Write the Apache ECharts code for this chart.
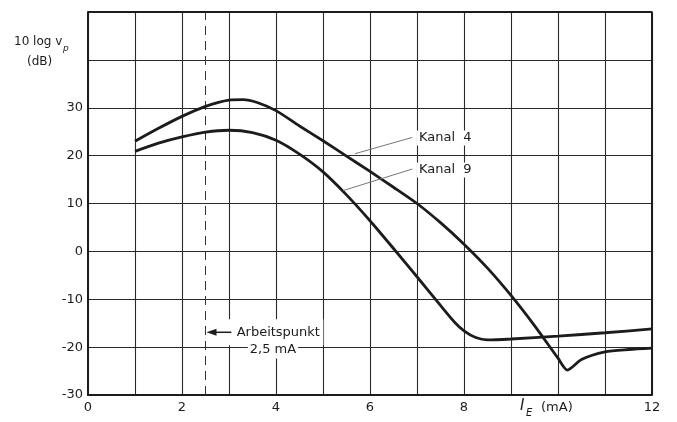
<!DOCTYPE html>
<html>
<head>
<meta charset="utf-8">
<script src="https://cdn.jsdelivr.net/npm/echarts@6/dist/echarts.min.js"></script>
<style>
  html, body { margin: 0; padding: 0; background: #fff; }
  #root { width: 677px; height: 422px; }
</style>
</head>
<body>
<div id="root"></div>
<script>
// Kanal 4 (upper curve at low current)
var k4Current = [1, 1.5, 2, 2.5, 3, 3.3, 3.6, 4, 4.5, 5, 5.5, 6, 6.5, 7, 7.5, 8, 8.5, 9, 9.5, 10, 10.2, 10.5, 11, 11.5, 12];
var k4Gain    = [23, 25.7, 28.2, 30.3, 31.6, 31.7, 31.1, 29.4, 26.2, 23.1, 19.9, 16.7, 13.4, 10, 6, 1.5, -3.5, -9.2, -15.5, -22.3, -24.8, -22.6, -21, -20.5, -20.2];

// Kanal 9
var k9Current = [1, 1.5, 2, 2.5, 3, 3.5, 4, 4.5, 5, 5.5, 6, 6.5, 7, 7.5, 7.8, 8, 8.25, 8.5, 9, 10, 11, 12];
var k9Gain    = [20.9, 22.6, 23.9, 24.9, 25.3, 24.8, 23.2, 20.3, 16.6, 11.8, 6.4, 0.6, -5.3, -11.3, -14.8, -16.6, -18, -18.5, -18.3, -17.7, -17, -16.2];

// 10 is left out: the axis name sits there
var xTicks = [0, 2, 4, 6, 8, 12];
var yTicks = [-30, -20, -10, 0, 10, 20, 30];
var workPoint = 2.5;

function zip(xs, ys) {
	var out = [];
	for (var i = 0; i < xs.length; i++) out.push([xs[i], ys[i]]);
	return out;
}

var ink = '#1c1c1c';
var font = 'DejaVu Sans';

var chart = echarts.init(document.getElementById('root'));

var option = {
	animation: false,
	backgroundColor: '#fff',
	grid: { left: 88, top: 12, right: 25, bottom: 27, containLabel: false },
	xAxis: {
		type: 'value', min: 0, max: 12, interval: 1,
		axisLine: { show: true, onZero: false, lineStyle: { color: ink, width: 2 } },
		axisTick: { show: false },
		splitLine: { show: true, lineStyle: { color: '#2a2a2a', width: 1.1 } },
		axisLabel: {
			color: ink, fontFamily: font, fontSize: 13, margin: 6,
			formatter: function (v) { return xTicks.indexOf(v) >= 0 ? String(v) : ''; }
		}
	},
	yAxis: {
		type: 'value', min: -30, max: 50, interval: 10,
		axisLine: { show: true, lineStyle: { color: ink, width: 2 } },
		axisTick: { show: false },
		splitLine: { show: true, lineStyle: { color: '#2a2a2a', width: 1.1 } },
		axisLabel: {
			color: ink, fontFamily: font, fontSize: 13, margin: 5,
			formatter: function (v) { return yTicks.indexOf(v) >= 0 ? String(v) : ''; }
		}
	},
	series: [
		{
			name: 'Kanal 4', type: 'line', data: zip(k4Current, k4Gain),
			smooth: 0.25, symbol: 'none',
			lineStyle: { color: ink, width: 2.8 },
			z: 5,
			markLine: {
				silent: true, symbol: 'none',
				label: { show: false },
				lineStyle: { color: '#333', width: 1, type: [9, 6] },
				data: [{ xAxis: workPoint }]
			}
		},
		{
			name: 'Kanal 9', type: 'line', data: zip(k9Current, k9Gain),
			smooth: 0.25, symbol: 'none',
			lineStyle: { color: ink, width: 2.8 },
			z: 5
		},
		{
			// right and top frame
			type: 'line', data: [[12, -30], [12, 50], [0, 50]],
			symbol: 'none', silent: true,
			lineStyle: { color: ink, width: 2 }, z: 4
		}
	]
};

chart.setOption(option);

// annotations placed from data coordinates
function px(x, y) { return chart.convertToPixel({ gridIndex: 0 }, [x, y]); }

var l4a = px(5.68, 20.4), l4b = px(6.9, 23.8), t4 = px(7.0, 23.7);
var l9a = px(5.43, 12.7), l9b = px(6.9, 17.2), t9 = px(7.0, 17.0);
var ar = px(workPoint, -16.9), arEnd = px(3.05, -16.9);
var tA = px(3.12, -16.9), tB = px(3.4, -20.6);

var textStyle = { fill: ink, fontFamily: font, fontSize: 13 };

chart.setOption({
	graphic: [
		{ type: 'text', left: 14, top: 36, style: { text: '10 log v', fill: ink, fontFamily: font, fontSize: 12 } },
		{ type: 'text', left: 63, top: 44, style: { text: 'p', fill: ink, fontFamily: font, fontSize: 9, fontStyle: 'italic' } },
		{ type: 'text', left: 27, top: 56, style: { text: '(dB)', fill: ink, fontFamily: font, fontSize: 12 } },

		{ type: 'text', left: 520, top: 399, style: { text: 'I', fill: ink, fontFamily: font, fontSize: 15, fontStyle: 'italic' } },
		{ type: 'text', left: 526, top: 408, style: { text: 'E', fill: ink, fontFamily: font, fontSize: 10, fontStyle: 'italic' } },
		{ type: 'text', left: 541, top: 401, style: { text: '(mA)', fill: ink, fontFamily: font, fontSize: 13 } },

		{ type: 'line', shape: { x1: l4a[0], y1: l4a[1], x2: l4b[0], y2: l4b[1] }, style: { stroke: '#777', lineWidth: 1 }, z: 20 },
		{ type: 'line', shape: { x1: l9a[0], y1: l9a[1], x2: l9b[0], y2: l9b[1] }, style: { stroke: '#777', lineWidth: 1 }, z: 20 },
		{ type: 'text', x: t4[0], y: t4[1], style: Object.assign({ text: 'Kanal  4', verticalAlign: 'middle', backgroundColor: '#fff', padding: [1, 2, 1, 2] }, textStyle), z: 20 },
		{ type: 'text', x: t9[0], y: t9[1], style: Object.assign({ text: 'Kanal  9', verticalAlign: 'middle', backgroundColor: '#fff', padding: [1, 2, 1, 2] }, textStyle), z: 20 },

		{ type: 'rect', shape: { x: arEnd[0] - 6, y: ar[1] - 13, width: 98, height: 26 }, style: { fill: '#fff' }, z: 18 },
		{ type: 'text', x: tA[0], y: tA[1], style: Object.assign({ text: 'Arbeitspunkt', verticalAlign: 'middle', backgroundColor: '#fff', padding: [2, 2, 2, 2] }, textStyle), z: 20 },
		{ type: 'text', x: tB[0], y: tB[1], style: Object.assign({ text: '2,5 mA', verticalAlign: 'middle', backgroundColor: '#fff', padding: [2, 2, 2, 2] }, textStyle), z: 20 },
		{ type: 'line', shape: { x1: ar[0] + 8, y1: ar[1], x2: arEnd[0], y2: ar[1] }, style: { stroke: ink, lineWidth: 1.5 }, z: 20 },
		{ type: 'polygon', shape: { points: [[ar[0] + 1, ar[1]], [ar[0] + 11, ar[1] - 3.5], [ar[0] + 11, ar[1] + 3.5]] }, style: { fill: ink }, z: 20 }
	]
});
</script>
</body>
</html>
